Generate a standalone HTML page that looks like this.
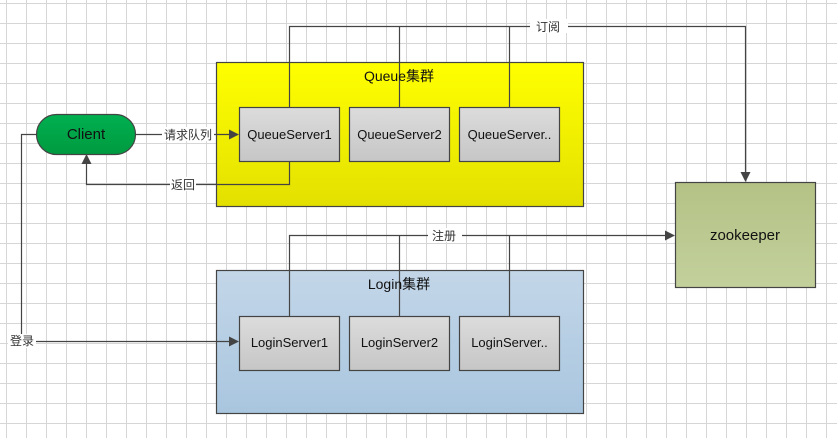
<!DOCTYPE html>
<html><head><meta charset="utf-8"><style>
html,body{margin:0;padding:0;background:#fff}
svg{display:block}
text{font-family:"Liberation Sans","Noto Sans CJK SC",sans-serif}
.cn{font-family:"Noto Serif CJK SC","Liberation Serif",serif}
</style></head><body>
<svg width="837" height="438" viewBox="0 0 837 438" xmlns="http://www.w3.org/2000/svg">
<defs>
<pattern id="g" x="6" y="3" width="20" height="20" patternUnits="userSpaceOnUse">
<path d="M0 0.5H20M0.5 0V20" stroke="#d6d6d6" stroke-width="1" fill="none"/>
</pattern>
<linearGradient id="yel" x1="0" y1="0" x2="0" y2="1"><stop offset="0" stop-color="#ffff00"/><stop offset="1" stop-color="#e3e000"/></linearGradient>
<linearGradient id="blu" x1="0" y1="0" x2="0" y2="1"><stop offset="0" stop-color="#c3d6e8"/><stop offset="1" stop-color="#a9c6df"/></linearGradient>
<linearGradient id="gry" x1="0" y1="0" x2="0" y2="1"><stop offset="0" stop-color="#dcdcdc"/><stop offset="1" stop-color="#c6c6c6"/></linearGradient>
<linearGradient id="grn" x1="0" y1="0" x2="0" y2="1"><stop offset="0" stop-color="#00b050"/><stop offset="1" stop-color="#009a40"/></linearGradient>
<linearGradient id="zk" x1="0" y1="0" x2="0" y2="1"><stop offset="0" stop-color="#b4c286"/><stop offset="1" stop-color="#c3d09c"/></linearGradient>
</defs>
<rect width="837" height="438" fill="url(#g)"/>
<g stroke="#444" stroke-width="1.2">
<rect x="216.5" y="62.5" width="367" height="144" fill="url(#yel)"/>
<rect x="216.5" y="270.5" width="367" height="143" fill="url(#blu)"/>
<rect x="675.5" y="182.5" width="140" height="105" fill="url(#zk)"/>
<rect x="36.5" y="114.5" width="99" height="40" rx="20" fill="url(#grn)"/>
<rect x="239.5" y="107.5" width="100" height="54" fill="url(#gry)"/>
<rect x="349.5" y="107.5" width="100" height="54" fill="url(#gry)"/>
<rect x="459.5" y="107.5" width="100" height="54" fill="url(#gry)"/>
<rect x="239.5" y="316.5" width="100" height="54" fill="url(#gry)"/>
<rect x="349.5" y="316.5" width="100" height="54" fill="url(#gry)"/>
<rect x="459.5" y="316.5" width="100" height="54" fill="url(#gry)"/>
</g>
<g stroke="#444" stroke-width="1.2" fill="none">
<path d="M289.5 107V26.5H745.5V176"/>
<path d="M399.5 107V26.5M509.5 107V26.5"/>
<path d="M289.5 316V235.5H668"/>
<path d="M399.5 316V235.5M509.5 316V235.5"/>
<path d="M135 134.5H232"/>
<path d="M289.5 161V184.5H86.5V161"/>
<path d="M36 134.5H21.5V341.5H232"/>
</g>
<g fill="#444">
<polygon points="745.5,182 740.5,172 750.5,172"/>
<polygon points="675,235.5 665,230.5 665,240.5"/>
<polygon points="239,134.5 229,129.5 229,139.5"/>
<polygon points="86.5,154 81.5,164 91.5,164"/>
<polygon points="239,341.5 229,336.5 229,346.5"/>
</g>
<g fill="#fff">
<rect x="530" y="19" width="38" height="14"/>
<rect x="428" y="228" width="34" height="14"/>
<rect x="162" y="127" width="52" height="14"/>
<rect x="170" y="177" width="26" height="14"/>
<rect x="8" y="334" width="28" height="14"/>
</g>
<g class="cn" font-size="12" fill="#333" text-anchor="middle">
<text x="548" y="31">订阅</text>
<text x="444" y="240">注册</text>
<text x="188" y="139">请求队列</text>
<text x="183" y="189">返回</text>
<text x="22" y="345">登录</text>
</g>
<g font-size="13" fill="#111" text-anchor="middle">
<text x="399" y="81" font-size="14">Queue集群</text>
<text x="399" y="289" font-size="14">Login集群</text>
<text x="86" y="139" font-size="15">Client</text>
<text x="745" y="240" font-size="15">zookeeper</text>
<text x="289.5" y="139">QueueServer1</text>
<text x="399.5" y="139">QueueServer2</text>
<text x="509.5" y="139">QueueServer..</text>
<text x="289.5" y="347">LoginServer1</text>
<text x="399.5" y="347">LoginServer2</text>
<text x="509.5" y="347">LoginServer..</text>
</g>
</svg>
</body></html>
